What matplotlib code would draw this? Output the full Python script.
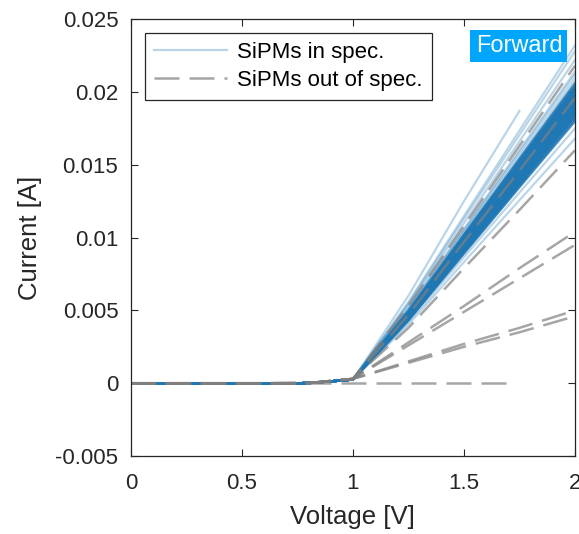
import matplotlib
matplotlib.use('Agg')
import matplotlib.pyplot as plt
from matplotlib.lines import Line2D

# -------------------------------------------------------------------------------------------------------------------- #
# Data
# -------------------------------------------------------------------------------------------------------------------- #

# Voltage steps [V]
voltage = [0.0, 0.2, 0.4, 0.6, 0.8, 1.0, 1.25, 1.5, 1.75, 2.0]

# SiPMs in spec, current [A] at each voltage step (nan = not measured)
nan = float('nan')
in_spec = [
    [0, 0, 0, 0, 1e-5, 2.5e-4, 0.00600, 0.01250, 0.01870, nan],
    [0, 0, 0, 0, 1e-5, 2.5e-4, 0.00557, 0.01148, 0.01735, 0.0232],
    [0, 0, 0, 0, 1e-5, 2.5e-4, 0.00547, 0.01129, 0.01705, 0.0228],
    [0, 0, 0, 0, 1e-5, 2.5e-4, 0.00533, 0.01099, 0.01661, 0.0222],
    [0, 0, 0, 0, 1e-5, 2.5e-4, 0.00514, 0.01059, 0.01601, 0.0214],
    [0, 0, 0, 0, 1e-5, 2.5e-4, 0.00509, 0.01049, 0.01586, 0.0212],
    [0, 0, 0, 0, 1e-5, 2.5e-4, 0.00502, 0.01035, 0.01563, 0.0209],
    [0, 0, 0, 0, 1e-5, 2.5e-4, 0.00494, 0.01020, 0.01541, 0.0206],
    [0, 0, 0, 0, 1e-5, 2.5e-4, 0.00490, 0.01010, 0.01526, 0.0204],
    [0, 0, 0, 0, 1e-5, 2.5e-4, 0.00485, 0.01000, 0.01511, 0.0202],
    [0, 0, 0, 0, 1e-5, 2.5e-4, 0.00482, 0.00995, 0.01503, 0.0201],
    [0, 0, 0, 0, 1e-5, 2.5e-4, 0.00480, 0.00990, 0.01496, 0.0200],
    [0, 0, 0, 0, 1e-5, 2.5e-4, 0.00478, 0.00985, 0.01489, 0.0199],
    [0, 0, 0, 0, 1e-5, 2.5e-4, 0.00475, 0.00980, 0.01481, 0.0198],
    [0, 0, 0, 0, 1e-5, 2.5e-4, 0.00473, 0.00975, 0.01474, 0.0197],
    [0, 0, 0, 0, 1e-5, 2.5e-4, 0.00470, 0.00970, 0.01466, 0.0196],
    [0, 0, 0, 0, 1e-5, 2.5e-4, 0.00468, 0.00965, 0.01459, 0.0195],
    [0, 0, 0, 0, 1e-5, 2.5e-4, 0.00466, 0.00960, 0.01451, 0.0194],
    [0, 0, 0, 0, 1e-5, 2.5e-4, 0.00463, 0.00955, 0.01444, 0.0193],
    [0, 0, 0, 0, 1e-5, 2.5e-4, 0.00461, 0.00950, 0.01436, 0.0192],
    [0, 0, 0, 0, 1e-5, 2.5e-4, 0.00458, 0.00945, 0.01429, 0.0191],
    [0, 0, 0, 0, 1e-5, 2.5e-4, 0.00456, 0.00941, 0.01421, 0.0190],
    [0, 0, 0, 0, 1e-5, 2.5e-4, 0.00454, 0.00936, 0.01414, 0.0189],
    [0, 0, 0, 0, 1e-5, 2.5e-4, 0.00451, 0.00931, 0.01406, 0.0188],
    [0, 0, 0, 0, 1e-5, 2.5e-4, 0.00449, 0.00926, 0.01399, 0.0187],
    [0, 0, 0, 0, 1e-5, 2.5e-4, 0.00444, 0.00916, 0.01384, 0.0185],
    [0, 0, 0, 0, 1e-5, 2.5e-4, 0.00442, 0.00911, 0.01376, 0.0184],
    [0, 0, 0, 0, 1e-5, 2.5e-4, 0.00437, 0.00901, 0.01361, 0.0182],
    [0, 0, 0, 0, 1e-5, 2.5e-4, 0.00432, 0.00891, 0.01347, 0.0180],
    [0, 0, 0, 0, 1e-5, 2.5e-4, 0.00420, 0.00866, 0.01309, 0.0175],
    [0, 0, 0, 0, 1e-5, 2.5e-4, 0.00403, 0.00832, 0.01257, 0.0168],
]
# How many SiPMs share each in-spec curve (the dense band holds most of them)
in_spec_count = [1, 1, 1, 1, 1, 1, 1, 5,
                 7, 7, 7, 7, 7, 7, 7, 7, 7, 7, 7, 7, 7, 7, 7, 7, 7, 7, 7, 7, 5,
                 1, 1]

# SiPMs out of spec, current [A] at each voltage step
out_spec = [
    [0, 0, 0, 0, 1e-5, 3.0e-4, 0.0053, 0.0108, 0.0163, 0.0218],
    [0, 0, 0, 0, 1e-5, 3.0e-4, 0.0047, 0.0097, 0.0146, 0.0196],
    [0, 0, 0, 0, 1e-5, 3.0e-4, 0.0038, 0.0079, 0.0119, 0.0160],
    [0, 0, 0, 0, 1e-5, 3.0e-4, 0.0028, 0.0053, 0.0079, 0.0104],
    [0, 0, 0, 0, 1e-5, 3.0e-4, 0.0026, 0.0049, 0.0072, 0.0095],
    [0, 0, 0, 0, 1e-5, 3.0e-4, 0.0015, 0.0027, 0.0038, 0.0050],
    [0, 0, 0, 0, 1e-5, 3.0e-4, 0.0014, 0.0025, 0.0035, 0.0046],
]

# Dead SiPM (no forward current), measured up to 1.7 V
dead_voltage = [0.0, 0.5, 1.0, 1.5, 1.7]
dead_current = [0, 0, 0, 0, 0]

y_ticks = [-0.005, 0, 0.005, 0.01, 0.015, 0.02, 0.025]
y_tick_labels = ['-0.005', '0', '0.005', '0.01', '0.015', '0.02', '0.025']
x_ticks = [0, 0.5, 1, 1.5, 2]
x_tick_labels = ['0', '0.5', '1', '1.5', '2']

# -------------------------------------------------------------------------------------------------------------------- #
# Settings
# -------------------------------------------------------------------------------------------------------------------- #

plt.rcParams['font.family'] = ['Liberation Sans', 'DejaVu Sans']
blue = '#1f77b4'
grey = '0.5'
ink = '0.15'
dash = (10, 4)

# -------------------------------------------------------------------------------------------------------------------- #
# Plot
# -------------------------------------------------------------------------------------------------------------------- #

fig = plt.figure(figsize=(5.79, 5.34), dpi=100)
ax = fig.add_axes([0.226, 0.146, 0.767, 0.818])

for cur, n in zip(in_spec, in_spec_count):
    for _ in range(n):
        ax.plot(voltage, cur, color=blue, alpha=0.3, lw=1.6)

for cur in out_spec:
    ax.plot(voltage, cur, color=grey, alpha=0.7, lw=1.8, dashes=dash)
ax.plot(dead_voltage, dead_current, color=grey, alpha=0.7, lw=1.8, dashes=dash)

ax.set_xlim(0, 2)
ax.set_ylim(-0.005, 0.025)
ax.set_xticks(x_ticks)
ax.set_xticklabels(x_tick_labels)
ax.set_yticks(y_ticks)
ax.set_yticklabels(y_tick_labels)
ax.tick_params(direction='in', top=True, right=True, length=5, width=0.8,
               labelsize=16, colors=ink)
ax.tick_params(axis='x', pad=12)
ax.tick_params(axis='y', pad=9)
for sp in ax.spines.values():
    sp.set_color(ink)
    sp.set_linewidth(0.9)

ax.set_xlabel('Voltage [V]', fontsize=18.5, color=ink)
ax.set_ylabel('Current [A]', fontsize=18.5, color=ink)
ax.xaxis.set_label_coords(0.5, -0.112)
ax.yaxis.set_label_coords(-0.2, 0.5)

# Legend (proxy handles)
handles = [Line2D([], [], color=blue, alpha=0.3, lw=1.6),
           Line2D([], [], color=grey, alpha=0.7, lw=1.8, dashes=dash)]
leg = ax.legend(handles, ['SiPMs in spec.', 'SiPMs out of spec.'],
                loc='upper left', bbox_to_anchor=(0.032, 0.968), borderaxespad=0,
                fontsize=16, handlelength=3.3, handletextpad=0.45,
                labelspacing=0.3, borderpad=0.4, fancybox=False, framealpha=1)
leg.get_frame().set_edgecolor(ink)
leg.get_frame().set_linewidth(0.9)

# Tag
ax.text(0.874, 0.939, 'Forward', transform=ax.transAxes, ha='center', va='center',
        fontsize=17, color='white',
        bbox=dict(boxstyle='square,pad=0.22', fc='#00a6fb', ec='none'))

fig.savefig('out.png', dpi=100)
